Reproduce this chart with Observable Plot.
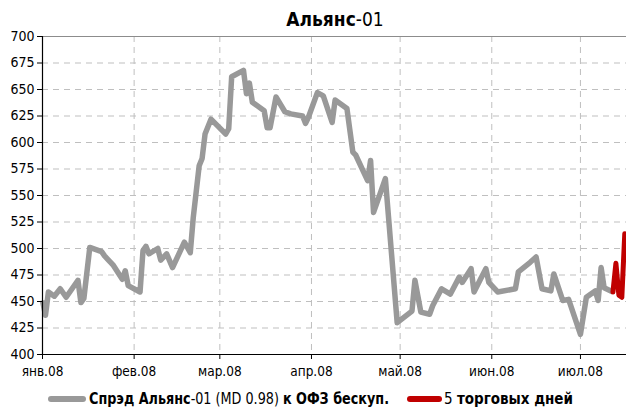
<!DOCTYPE html>
<html>
<head>
<meta charset="utf-8">
<script src="https://cdn.jsdelivr.net/npm/d3@7"></script>
<script src="https://cdn.jsdelivr.net/npm/@observablehq/plot@0.6"></script>
<style>
  html, body { margin: 0; padding: 0; background: #fff; }
  body { width: 626px; height: 408px; overflow: hidden; position: relative; font-family: "Liberation Sans Narrow", "Arial Narrow", "DejaVu Sans Condensed", sans-serif; }
  #title { height: 28px; line-height: 28px; text-align: center; font-size: 19px; color: #000; padding-top: 5px; padding-left: 44px; box-sizing: border-box; }
  #legend { position: relative; height: 18px; font-size: 16px; color: #000; white-space: nowrap; }
  #legend span { position: absolute; top: 0; line-height: 18px; }
  #legend .t { transform-origin: 0 50%; }
  .sw { height: 6px; border-radius: 3px; top: 6px !important; }
  b { font-weight: bold; }
</style>
</head>
<body>
<div id="title"><b>Альянс</b>-01</div>
<div id="chart"></div>
<div id="legend">
  <span class="sw" style="left:48px;width:38px;background:#999999"></span>
  <span class="t" id="t1" style="left:89px"><b>Спрэд Альянс</b>-01 (MD 0.98) <b>к ОФЗ бескуп.</b></span>
  <span class="sw" style="left:407px;width:35px;background:#c00000"></span>
  <span class="t" id="t2" style="left:444px">5 <b>торговых дней</b></span>
</div>
<script>
// Spread series (gray), dates and values
const grayDates = [
  "2008-01-01","2008-01-02","2008-01-03","2008-01-05","2008-01-07","2008-01-09","2008-01-13","2008-01-14","2008-01-15","2008-01-17",
  "2008-01-21","2008-01-22","2008-01-23","2008-01-25","2008-01-28","2008-01-29","2008-01-30",
  "2008-02-03","2008-02-04","2008-02-05","2008-02-06","2008-02-09","2008-02-10","2008-02-12","2008-02-14","2008-02-18","2008-02-20",
  "2008-02-21","2008-02-23","2008-02-24","2008-02-25","2008-02-27",
  "2008-03-03","2008-03-04","2008-03-05","2008-03-09","2008-03-10","2008-03-11","2008-03-12","2008-03-16","2008-03-17","2008-03-18",
  "2008-03-20","2008-03-23","2008-03-25","2008-03-29","2008-03-30","2008-03-31",
  "2008-04-03","2008-04-05","2008-04-08","2008-04-09","2008-04-13","2008-04-15","2008-04-16","2008-04-20","2008-04-21","2008-04-22",
  "2008-04-26","2008-04-30",
  "2008-05-05","2008-05-06","2008-05-08","2008-05-11","2008-05-12","2008-05-15","2008-05-18","2008-05-21","2008-05-22","2008-05-25",
  "2008-05-26","2008-05-28","2008-05-30","2008-05-31",
  "2008-06-03","2008-06-09","2008-06-10","2008-06-14","2008-06-16","2008-06-18","2008-06-21","2008-06-22","2008-06-25","2008-06-27",
  "2008-07-01","2008-07-03","2008-07-06","2008-07-07","2008-07-08","2008-07-09","2008-07-12"
];
const grayValues = [
  451, 437, 459, 455, 462, 454, 470, 449, 453, 501,
  497, 493, 490, 484, 471, 479, 465,
  459, 498, 502, 495, 500, 489, 495, 482, 506, 496,
  529, 578, 585, 608, 622,
  608, 613, 662, 668, 646, 656, 638, 630, 614, 614,
  643, 629, 627, 625, 618, 624,
  647, 644, 619, 640, 632, 591, 588, 564, 583, 534,
  566, 430,
  441, 470, 440, 438, 446, 462, 457, 473, 468, 481,
  459, 470, 481, 468,
  459, 462, 478, 487, 492, 462, 460, 476, 451, 452,
  419, 454, 460, 451, 482, 463, 459
];
// Last 5 trading days (red)
const redDates = ["2008-07-12","2008-07-13","2008-07-14","2008-07-15","2008-07-16"];
const redValues = [459, 486, 456, 454, 514];

const monthLabels = ["янв.08","фев.08","мар.08","апр.08","май.08","июн.08","июл.08"];
const yTicks = [400, 425, 450, 475, 500, 525, 550, 575, 600, 625, 650, 675, 700];

const gray = grayDates.map((d, i) => ({date: new Date(d), value: grayValues[i]}));
const red = redDates.map((d, i) => ({date: new Date(d), value: redValues[i]}));
const monthTicks = monthLabels.map((_, i) => new Date(Date.UTC(2008, i, 1)));
const xDomain = [new Date(Date.UTC(2008, 0, 1)), new Date(Date.UTC(2008, 6, 16, 14))];
const font = '"Liberation Sans Narrow", "Arial Narrow", "DejaVu Sans Condensed", sans-serif';

const chart = Plot.plot({
  width: 626,
  height: 362,
  marginLeft: 42,
  marginRight: 0,
  marginTop: 8,
  marginBottom: 36,
  style: {fontFamily: font, fontSize: "14px", color: "#000", background: "#fff", overflow: "visible"},
  x: {type: "utc", domain: xDomain, label: null},
  y: {domain: [400, 700], label: null},
  marks: [
    Plot.gridY(yTicks.filter(v => v > 400 && v < 700), {stroke: "#bfbfbf", strokeOpacity: 1, strokeDasharray: "6,5"}),
    Plot.gridX(monthTicks.slice(1), {stroke: "#bfbfbf", strokeOpacity: 1, strokeDasharray: "6,5"}),
    Plot.ruleY([700], {stroke: "#8c8c8c"}),
    Plot.line(gray, {x: "date", y: "value", stroke: "#999999", strokeWidth: 5.5, strokeLinejoin: "round", strokeLinecap: "butt"}),
    Plot.line(red, {x: "date", y: "value", stroke: "#c00000", strokeWidth: 5, strokeLinejoin: "round"}),
    Plot.ruleY([400], {stroke: "#000", strokeWidth: 1.2}),
    Plot.ruleX([xDomain[0]], {stroke: "#000", strokeWidth: 1.2}),
    Plot.axisY({ticks: yTicks, tickSize: 5, tickPadding: 3, tickFormat: d => String(d), fontSize: 14, stroke: "#000", strokeOpacity: 1}),
    Plot.axisX({ticks: monthTicks, tickSize: 5, tickPadding: 7, tickFormat: d => monthLabels[d.getUTCMonth()], fontSize: 13.5, stroke: "#000", strokeOpacity: 1})
  ]
});
document.getElementById("chart").appendChild(chart);

// squeeze legend texts horizontally to mimic the narrow typeface of the original
function fit(id, target) {
  const el = document.getElementById(id);
  const w = el.getBoundingClientRect().width;
  if (w > 0) el.style.transform = `scaleX(${target / w})`;
}
fit("t1", 300);
fit("t2", 129);
</script>
</body>
</html>
